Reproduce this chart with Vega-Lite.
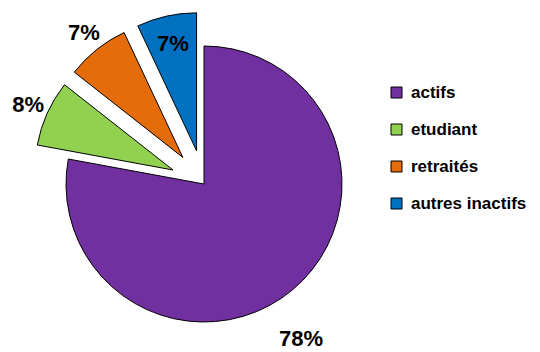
{
  "$schema": "https://vega.github.io/schema/vega-lite/v6.json",
  "width": 540,
  "height": 352,
  "autosize": {"type": "none"},
  "padding": 0,
  "background": "white",
  "config": {"view": {"stroke": null}},
  "data": {"values": [
    {"categorie": "actifs", "pct": 77.9, "rang": 1},
    {"categorie": "etudiant", "pct": 7.7, "rang": 2},
    {"categorie": "retraités", "pct": 7.4, "rang": 3},
    {"categorie": "autres inactifs", "pct": 7.0, "rang": 4}
  ]},
  "transform": [
    {"window": [{"op": "sum", "field": "pct", "as": "fin"}], "sort": [{"field": "rang"}], "frame": [null, 0]},
    {"calculate": "datum.fin - datum.pct", "as": "debut"},
    {"calculate": "(datum.debut + datum.fin) / 2", "as": "milieu"},
    {"calculate": "datum.categorie == 'actifs' ? 0 : 1", "as": "ecart"},
    {"calculate": "datum.ecart * sin(datum.milieu / 100 * 2 * PI)", "as": "dx"},
    {"calculate": "datum.ecart * cos(datum.milieu / 100 * 2 * PI)", "as": "dy"},
    {"calculate": "format(datum.pct, '.0f') + '%'", "as": "etiquette"}
  ],
  "encoding": {
    "x": {"field": "dx", "type": "quantitative", "scale": {"domain": [-6, 9.882], "nice": false, "zero": false}, "axis": null},
    "y": {"field": "dy", "type": "quantitative", "scale": {"domain": [-4.941, 5.412], "nice": false, "zero": false}, "axis": null}
  },
  "layer": [
    {
      "mark": {"type": "arc", "radius": 138, "stroke": "black", "strokeWidth": 1},
      "encoding": {
        "theta": {"field": "debut", "type": "quantitative", "scale": {"domain": [0, 100]}, "stack": null},
        "theta2": {"field": "fin"},
        "color": {
          "field": "categorie",
          "type": "nominal",
          "scale": {
            "domain": ["actifs", "etudiant", "retraités", "autres inactifs"],
            "range": ["#7030A0", "#92D050", "#E46C0A", "#0070C0"]
          },
          "legend": {
            "orient": "none",
            "legendX": 388,
            "legendY": 84,
            "title": null,
            "symbolType": "square",
            "symbolSize": 121,
            "symbolStrokeColor": "black",
            "symbolStrokeWidth": 1,
            "symbolOpacity": 1,
            "labelFont": "Liberation Sans",
            "labelFontWeight": "bold",
            "labelFontSize": 17,
            "labelColor": "black",
            "labelOffset": 6,
            "rowPadding": 19
          }
        }
      }
    },
    {
      "transform": [{"filter": "datum.categorie == 'actifs'"}],
      "mark": {"type": "text", "radius": 183, "thetaOffset": 0.136, "font": "Liberation Sans", "fontWeight": "bold", "fontSize": 22, "color": "black"},
      "encoding": {
        "theta": {"field": "milieu", "type": "quantitative", "stack": null},
        "text": {"field": "etiquette"}
      }
    },
    {
      "transform": [{"filter": "datum.categorie == 'etudiant' || datum.categorie == 'retraités'"}],
      "mark": {"type": "text", "radius": 159, "font": "Liberation Sans", "fontWeight": "bold", "fontSize": 22, "color": "black"},
      "encoding": {
        "theta": {"field": "milieu", "type": "quantitative", "stack": null},
        "text": {"field": "etiquette"}
      }
    },
    {
      "transform": [{"filter": "datum.categorie == 'autres inactifs'"}],
      "mark": {"type": "text", "radius": 109, "font": "Liberation Sans", "fontWeight": "bold", "fontSize": 22, "color": "black"},
      "encoding": {
        "theta": {"field": "milieu", "type": "quantitative", "stack": null},
        "text": {"field": "etiquette"}
      }
    }
  ]
}
